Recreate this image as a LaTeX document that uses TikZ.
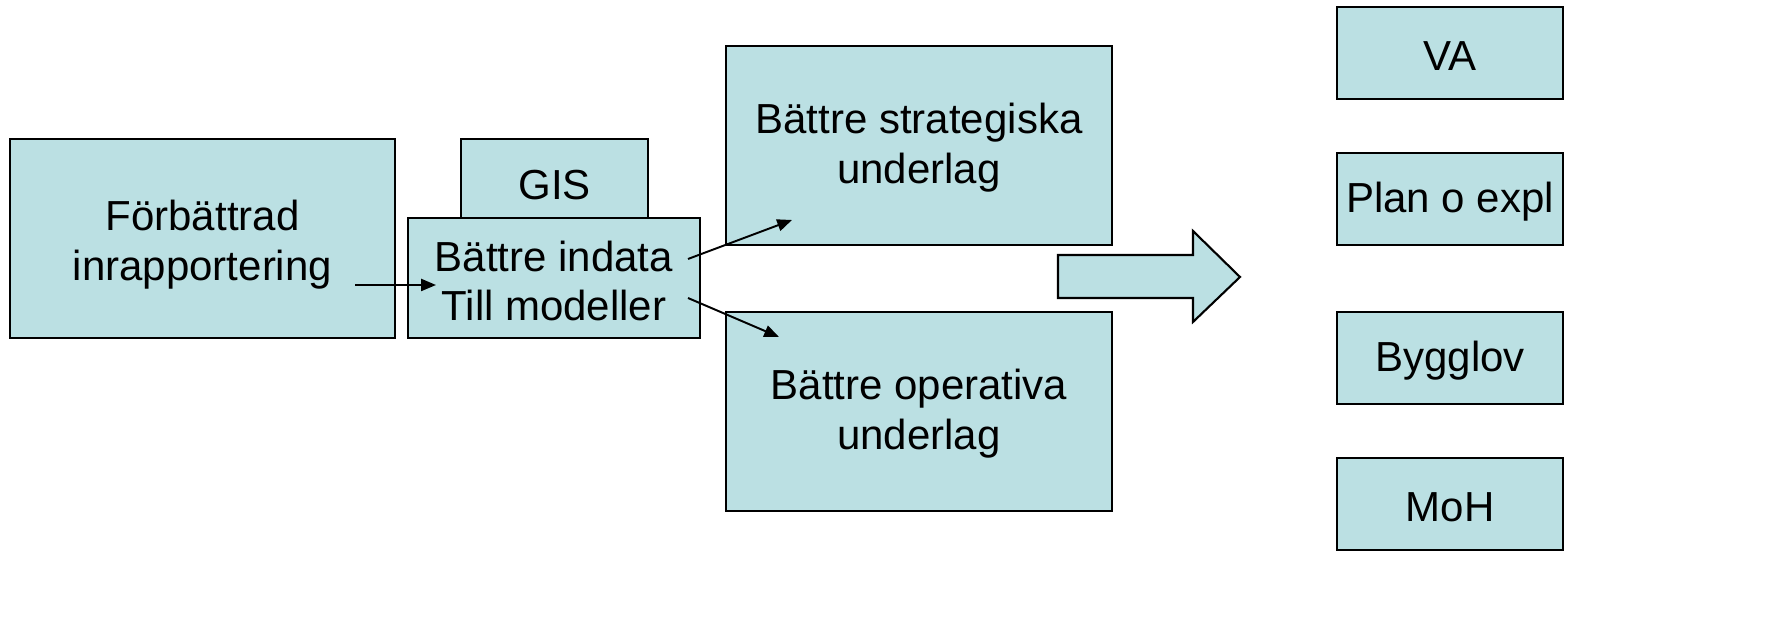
\documentclass[tikz,border=0pt]{standalone}
\usepackage{fontspec}
\setmainfont{Liberation Sans}
\usetikzlibrary{arrows.meta}
\definecolor{boxfill}{HTML}{BBE0E3}
\begin{document}
\begin{tikzpicture}[x=0.1mm,y=-0.1mm,
  box/.style={draw=black,line width=0.6pt,fill=boxfill},
  lbl/.style={font=\fontsize{11.95}{14.2}\selectfont,align=center},
  conn/.style={line width=0.55pt,-{Triangle[length=4.2pt,width=3.4pt]}}]
\useasboundingbox (0,0) rectangle (1787,624);
% boxes
\draw[box] (10,139) rectangle (395,338);
\node[lbl] (forb) at (202.5,245) {Förbättrad\\inrapportering};
\draw[box] (408,218) rectangle (700,338);
\node[lbl] (indata) at (554,281) {Bättre indata\\Till modeller};
\draw[box] (461,139) rectangle (648,218);
\node[lbl] (gis) at (554.5,185) {GIS};
\draw[box] (726,46) rectangle (1112,245);
\node[lbl] (strat) at (919,148) {Bättre strategiska\\underlag};
\draw[box] (726,312) rectangle (1112,511);
\node[lbl] (oper) at (919,414) {Bättre operativa\\underlag};
% block arrow
\draw[box] (1058,255) -- (1193,255) -- (1193,231) -- (1240,277) -- (1193,322) -- (1193,298) -- (1058,298) -- cycle;
% right column
\draw[box] (1337,7) rectangle (1563,99);
\node[lbl] (va) at (1450,56) {VA};
\draw[box] (1337,153) rectangle (1563,245);
\node[lbl] (plan) at (1450,202) {Plan o expl};
\draw[box] (1337,312) rectangle (1563,404);
\node[lbl] (bygg) at (1450,361) {Bygglov};
\draw[box] (1337,458) rectangle (1563,550);
\node[lbl] (moh) at (1450,507) {MoH};
% connectors
\coordinate (a1s) at (355,285);
\coordinate (a1e) at (436,285);
\coordinate (a2s) at (688,259);
\coordinate (a2e) at (792,220);
\coordinate (a3s) at (688,298);
\coordinate (a3e) at (779,337);
\draw[conn] (a1s) -- (a1e);
\draw[conn] (a2s) -- (a2e);
\draw[conn] (a3s) -- (a3e);
\end{tikzpicture}
\end{document}
